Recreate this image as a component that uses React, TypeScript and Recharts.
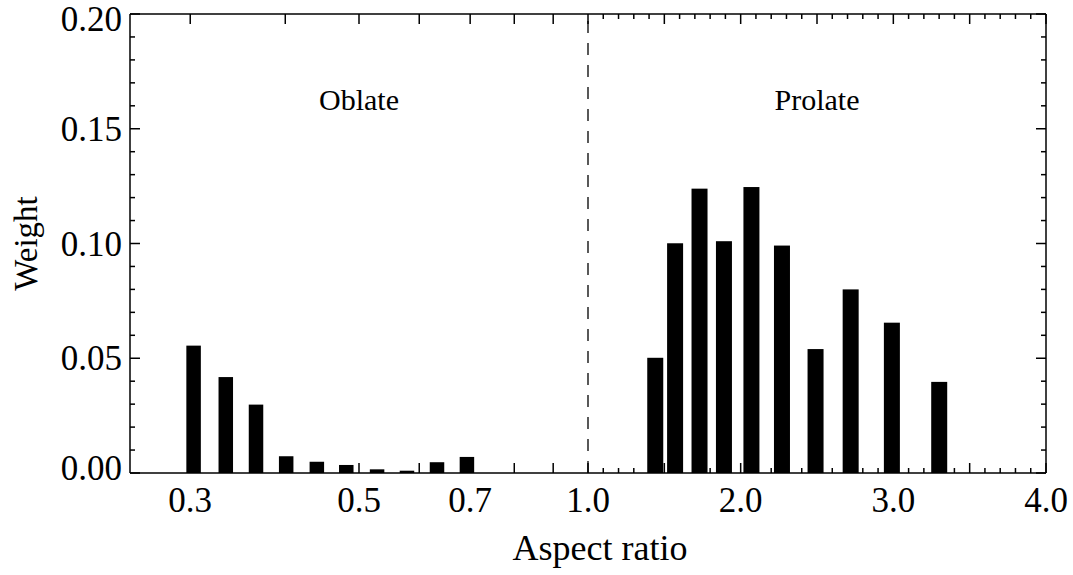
import React from 'react';
import { ComposedChart, Bar, XAxis, YAxis, ReferenceLine, ReferenceDot } from 'recharts';

// ---- data ----
const oblateRatio = [0.303, 0.334, 0.366, 0.401, 0.44, 0.481, 0.528, 0.578, 0.633, 0.693];
const oblateWeight = [0.0555, 0.0418, 0.0298, 0.0073, 0.0049, 0.0035, 0.0016, 0.001, 0.0047, 0.007];
const prolateRatio = [1.44, 1.57, 1.73, 1.89, 2.07, 2.27, 2.49, 2.72, 2.99, 3.3];
const prolateWeight = [0.0502, 0.1001, 0.1239, 0.101, 0.1246, 0.0991, 0.054, 0.08, 0.0655, 0.0397];

// ---- axis ticks ----
const xMajorTicks = [0.3, 0.4, 0.5, 0.6, 0.7, 0.8, 0.9, 1.0, 1.5, 2.0, 2.5, 3.0, 3.5, 4.0];
const xMinorTicks = [
  1.1, 1.2, 1.3, 1.4, 1.6, 1.7, 1.8, 1.9, 2.1, 2.2, 2.3, 2.4, 2.6, 2.7, 2.8, 2.9,
  3.1, 3.2, 3.3, 3.4, 3.6, 3.7, 3.8, 3.9,
];
const xLabeledTicks = [0.3, 0.5, 0.7, 1.0, 2.0, 3.0, 4.0];
const yMajorTicks = [0, 0.05, 0.1, 0.15, 0.2];
const yMinorTicks = [0.01, 0.02, 0.03, 0.04, 0.06, 0.07, 0.08, 0.09, 0.11, 0.12, 0.13, 0.14, 0.16, 0.17, 0.18, 0.19];

const xDomain: [number, number] = [0.25, 4.0];
const yDomain: [number, number] = [0, 0.2];
const divider = 1.0;
const regionLabels = [
  { text: 'Oblate', ratio: 0.5, weight: 0.158 },
  { text: 'Prolate', ratio: 2.5, weight: 0.158 },
];

// oblate half is logarithmic, prolate half is linear
const LOG4 = Math.log(4);
const toAxis = (q: number) => (q <= 1 ? Math.log(q) / LOG4 : (q - 1) / 3);

const data = [
  ...oblateRatio.map((q, i) => ({ q, u: toAxis(q), w: oblateWeight[i] })),
  ...prolateRatio.map((q, i) => ({ q, u: toAxis(q), w: prolateWeight[i] })),
];

type XTick = { q: number; u: number; major: boolean; label: string | null };
const xTicks: XTick[] = [...xMajorTicks, ...xMinorTicks]
  .sort((a, b) => a - b)
  .map((q) => ({
    q,
    u: toAxis(q),
    major: xMajorTicks.includes(q),
    label: xLabeledTicks.includes(q) ? q.toFixed(1) : null,
  }));
const yTicks = [...yMajorTicks, ...yMinorTicks].sort((a, b) => a - b);

const FONT = '"Liberation Serif", "Times New Roman", serif';
const TICK_FS = 35;
const INK = '#000';
const MAJOR = 10;
const MINOR = 5;

const findX = (v: number) => xTicks.find((t) => Math.abs(t.u - v) < 1e-9);
const isYMajor = (v: number) => yMajorTicks.some((m) => Math.abs(m - v) < 1e-9);

const BottomTick = (props: any) => {
  const { x, y, payload } = props;
  const t = findX(payload.value);
  if (!t) return null;
  return (
    <g>
      <line x1={x} y1={y} x2={x} y2={y - (t.major ? MAJOR : MINOR)} stroke={INK} strokeWidth={1.5} />
      {t.label && (
        <text x={x} y={y + 39} textAnchor="middle" fontFamily={FONT} fontSize={TICK_FS} fill={INK}>
          {t.label}
        </text>
      )}
    </g>
  );
};

const TopTick = (props: any) => {
  const { x, y, payload } = props;
  const t = findX(payload.value);
  if (!t) return null;
  return <line x1={x} y1={y} x2={x} y2={y + (t.major ? MAJOR : MINOR)} stroke={INK} strokeWidth={1.5} />;
};

const LeftTick = (props: any) => {
  const { x, y, payload } = props;
  const v = payload.value;
  const major = isYMajor(v);
  // end labels are nudged inside the frame, as in the reference
  const nudge = v >= yDomain[1] - 1e-9 ? 5 : v <= yDomain[0] + 1e-9 ? -5 : 0;
  return (
    <g>
      <line x1={x} y1={y} x2={x + (major ? MAJOR : MINOR)} y2={y} stroke={INK} strokeWidth={1.5} />
      {major && (
        <text x={x - 8} y={y + 12 + nudge} textAnchor="end" fontFamily={FONT} fontSize={TICK_FS} fill={INK}>
          {v.toFixed(2)}
        </text>
      )}
    </g>
  );
};

const RightTick = (props: any) => {
  const { x, y, payload } = props;
  const major = isYMajor(payload.value);
  return <line x1={x} y1={y} x2={x - (major ? MAJOR : MINOR)} y2={y} stroke={INK} strokeWidth={1.5} />;
};

const BarShape = (props: any) => {
  const { x, y, width, height, payload } = props;
  const w = payload.q < 1 ? 14.5 : 16;
  const cx = x + width / 2;
  return <rect x={cx - w / 2} y={y} width={w} height={height} fill={INK} />;
};

const YTitle = (props: any) => {
  const { viewBox } = props;
  const cx = viewBox.x + 37;
  const cy = viewBox.y + viewBox.height / 2;
  return (
    <text x={cx} y={cy} transform={`rotate(-90 ${cx} ${cy})`} textAnchor="middle" fontFamily={FONT} fontSize={33} fill={INK}>
      Weight
    </text>
  );
};

const XTitle = (props: any) => {
  const { viewBox } = props;
  const cx = viewBox.x + viewBox.width / 2 + 12;
  const cy = viewBox.y + 87;
  return (
    <text x={cx} y={cy} textAnchor="middle" fontFamily={FONT} fontSize={36} fill={INK}>
      Aspect ratio
    </text>
  );
};

export default function App() {
  const uDomain: [number, number] = [toAxis(xDomain[0]), toAxis(xDomain[1])];
  const tickU = xTicks.map((t) => t.u);
  return (
    <div style={{ position: 'absolute', left: 0, top: 0, width: 1073, height: 575, background: '#fff' }}>
      <ComposedChart width={1073} height={575} data={data} margin={{ top: 13, right: 26, bottom: 0, left: 0 }}>
        <XAxis
          xAxisId="bottom"
          orientation="bottom"
          type="number"
          dataKey="u"
          domain={uDomain}
          allowDataOverflow
          ticks={tickU}
          interval={0}
          height={102}
          tickSize={0}
          tickMargin={0}
          tickLine={false}
          axisLine={{ stroke: INK, strokeWidth: 1.5 }}
          tick={<BottomTick />}
          label={<XTitle />}
        />
        <XAxis
          xAxisId="top"
          orientation="top"
          type="number"
          dataKey="u"
          domain={uDomain}
          allowDataOverflow
          ticks={tickU}
          interval={0}
          height={1}
          tickSize={0}
          tickMargin={0}
          tickLine={false}
          axisLine={{ stroke: INK, strokeWidth: 1.5 }}
          tick={<TopTick />}
        />
        <YAxis
          yAxisId="left"
          orientation="left"
          type="number"
          domain={yDomain}
          allowDataOverflow
          ticks={yTicks}
          interval={0}
          width={130}
          tickSize={0}
          tickMargin={0}
          tickLine={false}
          axisLine={{ stroke: INK, strokeWidth: 1.5 }}
          tick={<LeftTick />}
          label={<YTitle />}
        />
        <YAxis
          yAxisId="right"
          orientation="right"
          type="number"
          domain={yDomain}
          allowDataOverflow
          ticks={yTicks}
          interval={0}
          width={1}
          tickSize={0}
          tickMargin={0}
          tickLine={false}
          axisLine={{ stroke: INK, strokeWidth: 1.5 }}
          tick={<RightTick />}
        />
        <ReferenceLine
          xAxisId="bottom"
          yAxisId="left"
          x={toAxis(divider)}
          stroke={INK}
          strokeWidth={1.3}
          strokeDasharray="12 10"
        />
        <Bar
          xAxisId="bottom"
          yAxisId="left"
          dataKey="w"
          barSize={16}
          fill={INK}
          shape={<BarShape />}
          isAnimationActive={false}
        />
        {regionLabels.map((r) => (
          <ReferenceDot
            key={r.text}
            xAxisId="bottom"
            yAxisId="left"
            x={toAxis(r.ratio)}
            y={r.weight}
            r={0}
            shape={(p: any) => (
              <text x={p.cx} y={p.cy} textAnchor="middle" fontFamily={FONT} fontSize={30} fill={INK}>
                {r.text}
              </text>
            )}
          />
        ))}
      </ComposedChart>
    </div>
  );
}
